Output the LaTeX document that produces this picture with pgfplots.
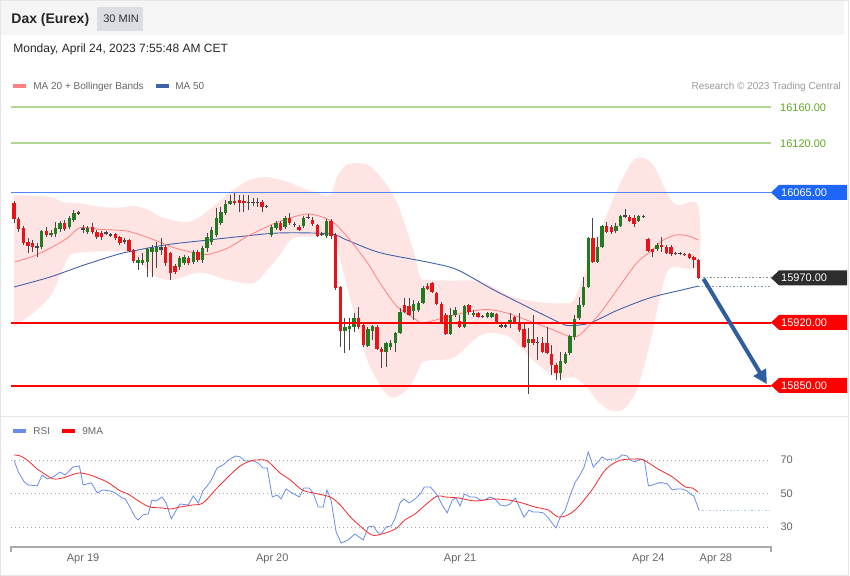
\documentclass[border=0pt]{standalone}
\usepackage{fontspec}
\setmainfont{Liberation Sans}
\usepackage{pgfplots}
\usepackage{pgfplotstable}
\pgfplotsset{compat=1.18}
\usetikzlibrary{arrows.meta}

\definecolor{candleup}{RGB}{34,122,34}
\definecolor{candledn}{RGB}{232,20,26}
\definecolor{wick}{RGB}{70,70,70}
\definecolor{bandfill}{RGB}{255,228,228}
\definecolor{ma20}{RGB}{255,128,128}
\definecolor{ma50}{RGB}{62,98,168}
\definecolor{lvlgreen}{RGB}{178,214,150}
\definecolor{lvltext}{RGB}{92,170,32}
\definecolor{lvlblue}{RGB}{84,132,250}
\definecolor{tagblue}{RGB}{30,102,246}
\definecolor{tagdark}{RGB}{45,45,45}
\definecolor{lvlred}{RGB}{255,0,0}
\definecolor{arrowblue}{RGB}{46,94,160}
\definecolor{rsiblue}{RGB}{105,140,235}
\definecolor{rsired}{RGB}{245,40,40}
\definecolor{txtgrey}{RGB}{102,102,102}
\definecolor{axisgrey}{RGB}{170,170,170}
\definecolor{btngrey}{RGB}{220,221,226}

\newcommand\tagfont{\fontsize{11}{13}\selectfont}
\newcommand\pricetag[3]{% y in px, colour, text
  \fill[#2] (771,-#1) -- (779,-#1+7.5) -- (847,-#1+7.5) -- (847,-#1-7.5) -- (779,-#1-7.5) -- cycle;
  \node[anchor=west, inner sep=0pt, text=white, font=\tagfont] at (781,-#1) {#3};
}

% 30 min candles: index, open, high, low, close
\pgfplotstableread{
i o h l c
6 16004 16023 16002 16022
8 16018 16023 16016 16020
9 16019 16032 16016 16026
10 16024 16033 16021 16031
12 16027 16039 16024 16037
13 16034 16046 16032 16042
16 16021 16028 16019 16026
27 15987 15993 15979 15990
28 15987 15998 15984 15990
29 15988 16003 15971 16002
30 15999 16007 15971 16003
31 15999 16010 15981 16004
36 15982 15994 15979 15992
37 15987 15996 15984 15993
39 15988 16001 15986 15999
41 15990 16006 15987 16003
42 16003 16020 15999 16016
43 16010 16027 16007 16023
44 16018 16048 16016 16037
45 16031 16049 16029 16043
46 16042 16057 16040 16052
47 16052 16062 16051 16056
56 16018 16029 16016 16027
57 16026 16033 16023 16031
59 16027 16039 16024 16037
63 16028 16039 16026 16037
68 16017 16036 16014 16033
72 15911 15926 15887 15916
73 15913 15926 15890 15917
74 15916 15931 15910 15926
77 15894 15916 15893 15913
78 15911 15918 15901 15917
81 15888 15899 15871 15898
82 15893 15901 15890 15898
83 15898 15910 15888 15909
84 15909 15937 15908 15932
87 15933 15946 15923 15941
88 15934 15944 15932 15942
89 15942 15961 15941 15959
95 15908 15937 15907 15929
96 15929 15938 15927 15934
98 15916 15940 15914 15939
100 15929 15934 15927 15931
103 15927 15932 15926 15931
104 15927 15932 15926 15931
108 15921 15931 15914 15923
112 15898 15914 15841 15902
119 15864 15888 15857 15878
120 15876 15888 15874 15886
121 15887 15907 15884 15906
122 15904 15929 15901 15924
123 15926 15949 15923 15940
124 15940 15971 15938 15960
125 15960 16016 15959 16014
127 15988 16016 15987 16004
128 16004 16029 16003 16028
131 16022 16031 16020 16028
132 16028 16040 16027 16039
136 16033 16040 16032 16039
140 16002 16009 16000 16007
}\upcandles

\pgfplotstableread{
i o h l c
5 16003 16009 15993 16006
14 16041 16044 16040 16043
15 16023 16029 16020 16026
20 16019 16022 16018 16021
21 16017 16020 16016 16019
24 16010 16014 16008 16012
32 16001 16014 15996 16004
51 16053 16062 16046 16054
52 16053 16059 16050 16054
53 16053 16059 16049 16054
55 16049 16051 16048 16050
61 16029 16032 16027 16030
64 16037 16041 16036 16038
67 16018 16021 16017 16019
102 15927 15929 15926 15928
106 15916 15919 15914 15918
107 15916 15920 15914 15918
114 15898 15904 15879 15899
133 16038 16047 16037 16040
137 16038 16040 16037 16039
144 15997 15999 15996 15998
145 15997 15999 15996 15998
}\dojicandles

\pgfplotstableread{
i o h l c
0 16053 16056 16031 16036
1 16036 16038 16021 16024
2 16026 16028 16007 16009
3 16010 16014 15998 16006
4 16009 16012 15999 16004
7 16022 16027 16016 16018
11 16031 16034 16022 16024
17 16027 16031 16019 16021
18 16021 16023 16013 16016
19 16020 16022 16012 16016
22 16019 16020 16012 16014
23 16016 16017 16007 16009
25 16012 16013 15999 16000
26 16001 16002 15987 15989
33 16004 16007 15983 15987
34 15998 15999 15968 15976
35 15983 15986 15974 15977
38 15992 15994 15984 15987
40 15999 16001 15988 15990
48 16056 16064 16051 16053
49 16057 16062 16043 16053
50 16056 16062 16043 16053
54 16054 16057 16043 16049
58 16031 16033 16022 16023
60 16037 16042 16029 16031
62 16027 16029 16022 16023
65 16034 16038 16028 16030
66 16029 16030 16016 16017
69 16033 16036 16013 16017
70 16018 16020 15957 15959
71 15960 15961 15893 15911
75 15926 15938 15913 15916
76 15918 15920 15893 15896
79 15916 15918 15890 15891
80 15891 15893 15870 15888
85 15940 15948 15931 15932
86 15939 15948 15928 15929
90 15961 15964 15957 15958
91 15964 15966 15953 15954
92 15953 15954 15940 15941
93 15941 15943 15919 15920
94 15929 15931 15907 15908
97 15922 15929 15914 15916
99 15940 15941 15929 15932
101 15931 15932 15926 15927
105 15930 15931 15919 15920
109 15927 15928 15919 15920
110 15920 15931 15910 15912
111 15913 15920 15892 15893
113 15902 15929 15896 15898
115 15898 15904 15887 15888
116 15898 15916 15886 15887
117 15886 15896 15862 15873
118 15873 15876 15857 15864
126 16014 16037 15987 15988
129 16028 16032 16020 16021
130 16027 16029 16019 16021
134 16038 16040 16032 16033
135 16037 16040 16027 16030
138 16013 16014 15999 16000
139 16002 16002 15993 15999
141 16007 16016 15999 16004
142 16004 16007 15997 15998
143 16004 16007 15994 15997
146 15997 15998 15994 15996
147 15997 15998 15991 15992
148 15993 15994 15981 15990
149 15990 15991 15969 15970
}\downcandles

\pgfplotsset{
  wicks/.style={draw=none, mark=none, forget plot,
    error bars/.cd, y dir=plus, y explicit, error mark=none,
    error bar style={draw=wick, line width=0.8pt}},
  bodies/.style={draw=none, mark=none, forget plot,
    error bars/.cd, y dir=plus, y explicit, error mark=none,
    error bar style={draw=#1, line width=3.4pt}},
}

\begin{document}
\begin{tikzpicture}[x=1pt,y=1pt]
\fill[white] (0,0) rectangle (850,-576);

% header
\fill[black!4] (1,-1) rectangle (844,-35.5);
\fill[btngrey] (97,-7) rectangle (143,-31);
\node[anchor=base west, inner sep=0pt, font=\fontsize{14}{16}\selectfont\bfseries, text=black!85] at (11,-23.5) {Dax (Eurex)};
\node[anchor=base west, inner sep=0pt, font=\fontsize{11}{13}\selectfont, text=black!80] at (103,-23) {30 MIN};
\node[anchor=base west, inner sep=0pt, font=\fontsize{12}{14}\selectfont, text=black!85] at (13,-52.5) {Monday, April 24, 2023 7:55:48 AM CET};

% legend of the price panel
\fill[ma20] (13,-84.5) rectangle (26,-88.5);
\node[anchor=base west, inner sep=0pt, font=\fontsize{10}{12}\selectfont, text=txtgrey] at (33,-90) {MA 20 + Bollinger Bands};
\fill[ma50] (156,-84.5) rectangle (169,-88.5);
\node[anchor=base west, inner sep=0pt, font=\fontsize{10}{12}\selectfont, text=txtgrey] at (175,-90) {MA 50};
\node[anchor=base east, inner sep=0pt, font=\fontsize{10}{12}\selectfont, text=black!40] at (841,-90) {Research © 2023 Trading Central};

% frame and panel separator
\draw[black!10] (0.5,-0.5) rectangle (848.5,-575.5);
\draw[black!10] (0,-416) -- (849,-416);

\begin{axis}[
  at={(11pt,-416pt)}, anchor=south west,
  width=760pt, height=321pt, scale only axis,
  xmin=-0.65, xmax=164.8, ymin=15816.7, ymax=16173.3,
  hide axis, clip=false,
]
  % Bollinger bands: upper band left to right, lower band right to left
  \addplot[fill=bandfill, draw=none, smooth] coordinates {
    (0,16062) (7.8,16060) (10.7,16054) (14.4,16053) (18.7,16049) (23.1,16048)
    (25.9,16050) (29,16046) (31.8,16038) (34.6,16034) (37.7,16032) (40.5,16038)
    (44.2,16053) (47.7,16068) (51.4,16079) (55.1,16082) (59.4,16077) (62.3,16071)
    (65.1,16066) (68.8,16062) (70.3,16082) (72.5,16096) (76.9,16096) (80.3,16079)
    (83.4,16053) (86.9,16001) (88.4,15971) (89.9,15968) (94.9,15967) (101.5,15966)
    (108.6,15949) (114.5,15943) (120,15942) (122.1,15948) (126.1,16001) (130.4,16057)
    (134.1,16096) (136.3,16104) (139.1,16096) (142.2,16064) (144.4,16051) (148.9,16051)
    (148.9,15984) (142.8,15981) (140.6,15948) (138.5,15899) (135.6,15846) (132.6,15824)
    (129.7,15823) (126.9,15834) (124.8,15848) (122.2,15859) (118.9,15859) (116,15866)
    (112.3,15882) (108,15904) (103.6,15909) (100.8,15904) (97.8,15890) (95.6,15881)
    (92.8,15879) (89,15877) (87.7,15864) (85.6,15846) (82.5,15837) (80.3,15846)
    (77.5,15871) (76,15893) (73.2,15946) (71,15990) (69.5,16016) (66,16016)
    (60.7,16014) (57.9,15996) (55.1,15979) (52,15964) (46.4,15968) (40.5,15976)
    (34.6,15968) (31.1,15971) (27.4,15987) (24.6,15999) (13.7,15998) (11.5,15990)
    (9.6,15968) (7.8,15949) (4.1,15931) (0,15916)} -- cycle;

  % MA 50
  \addplot[ma50, line width=0.9pt, smooth] coordinates {
    (0,15960) (7.8,15971) (15,15984) (22.4,15996) (25.9,16000) (33.3,16007)
    (42,16012) (49.2,16016) (57.9,16020) (68.8,16019) (72.5,16012) (79.7,15998)
    (90.6,15987) (96.5,15979) (104.3,15957) (111.7,15938) (118.9,15920) (121,15917)
    (125.4,15920) (131.3,15934) (138.5,15948) (145.7,15957) (149,15961)};
  % MA 20
  \addplot[ma20, line width=0.8pt, smooth] coordinates {
    (0.2,15988) (4.1,15994) (7.8,16003) (11.5,16014) (14.4,16026) (18.7,16024)
    (24.6,16022) (29.6,16014) (34.6,16004) (38.3,15999) (42,15996) (46.4,16003)
    (50.7,16016) (55.1,16027) (57.9,16033) (63.8,16041) (68.8,16034) (72.5,16016)
    (76.9,15987) (79.7,15964) (83.4,15938) (86.9,15926) (89,15920) (94.3,15927)
    (98.6,15932) (103,15935) (107.3,15931) (111.7,15923) (116,15915) (118.9,15909)
    (121,15905) (123.2,15907) (127.6,15931) (131.3,15957) (135.6,15987) (138.5,15999)
    (141.3,16012) (144.4,16018) (147.2,16016) (149,16012)};

  % candles
  \addplot[wicks] table[x=i, y=l, y error plus expr=\thisrow{h}-\thisrow{l}] {\upcandles};
  \addplot[wicks] table[x=i, y=l, y error plus expr=\thisrow{h}-\thisrow{l}] {\dojicandles};
  \addplot[wicks] table[x=i, y=l, y error plus expr=\thisrow{h}-\thisrow{l}] {\downcandles};
  \addplot[bodies=candleup] table[x=i, y=o, y error plus expr=\thisrow{c}-\thisrow{o}] {\upcandles};
  \addplot[bodies=wick] table[x=i, y=o, y error plus expr=\thisrow{c}-\thisrow{o}] {\dojicandles};
  \addplot[bodies=candledn] table[x=i, y=c, y error plus expr=\thisrow{o}-\thisrow{c}] {\downcandles};

  % levels
  \addplot[lvlgreen, line width=1.2pt] coordinates {(-0.65,16160) (164.8,16160)};
  \addplot[lvlgreen, line width=1.2pt] coordinates {(-0.65,16120) (164.8,16120)};
  \addplot[lvlblue, line width=1.5pt] coordinates {(-0.65,16065) (164.8,16065)};
  \addplot[lvlred, line width=2pt] coordinates {(-0.65,15920) (164.8,15920)};
  \addplot[lvlred, line width=2pt] coordinates {(-0.65,15850) (164.8,15850)};
  \addplot[black!45, line width=0.9pt, dash pattern=on 1.5pt off 2pt] coordinates {(150,15970) (164.8,15970)};
  \addplot[ma50!70, line width=0.8pt, dash pattern=on 1.5pt off 2pt] coordinates {(149,15961) (164.8,15961)};

  \draw[arrowblue, line width=4pt, -{Triangle[length=14pt,width=14pt]}]
    (axis cs:150.1,15969) -- (axis cs:163.9,15852);
\end{axis}

% level labels
\node[anchor=west, inner sep=0pt, text=lvltext, font=\tagfont] at (780,-107.5) {16160.00};
\node[anchor=west, inner sep=0pt, text=lvltext, font=\tagfont] at (780,-143.5) {16120.00};
\pricetag{192.5}{tagblue}{16065.00}
\pricetag{278}{tagdark}{15970.00}
\pricetag{322.5}{lvlred}{15920.00}
\pricetag{385.5}{lvlred}{15850.00}

% legend of the RSI panel
\fill[rsiblue] (13,-429.5) rectangle (26,-433.5);
\node[anchor=base west, inner sep=0pt, font=\fontsize{10}{12}\selectfont, text=txtgrey] at (33,-435) {RSI};
\fill[lvlred] (62,-429.5) rectangle (75,-433.5);
\node[anchor=base west, inner sep=0pt, font=\fontsize{10}{12}\selectfont, text=txtgrey] at (82,-435) {9MA};

\begin{axis}[
  at={(11pt,-547pt)}, anchor=south west,
  width=760pt, height=127pt, scale only axis,
  xmin=-0.65, xmax=164.8, ymin=18.1, ymax=93.9,
  axis x line*=bottom, axis y line*=right,
  y axis line style={draw=none},
  x axis line style={draw=axisgrey, line width=1.6pt, -},
  xtick={15,56.2,97.1,138.1,152.8},
  xticklabels={Apr 19,Apr 20,Apr 21,Apr 24,Apr 28},
  ytick={30,50,70},
  ymajorgrids,
  major grid style={draw=black!35, line width=0.6pt, dash pattern=on 1pt off 3pt},
  major tick length=0pt,
  tick label style={font=\fontsize{11}{13}\selectfont, text=txtgrey},
  /pgf/number format/assume math mode=true,
  xticklabel style={yshift=-3pt},
  yticklabel style={xshift=6pt},
  clip=false,
]
  \addplot[rsiblue, line width=0.8pt] coordinates {
    (0,69.6) (0.9,62.8) (2.2,56.9) (3.0,55.1) (5.0,54.5) (6.1,61.0) (7.2,58.7)
    (8.5,59.9) (10.0,62.8) (11.1,61.0) (12.8,65.8) (14.2,66.4) (15.0,55.1) (16.8,56.3)
    (18.1,50.3) (19.2,52.1) (20.9,51.5) (22.0,50.3) (23.5,47.3) (24.2,46.7) (25.3,41.3)
    (26.3,36.0) (27.0,34.2) (28.1,37.2) (29.2,37.8) (30.0,46.1) (30.9,45.5) (32.2,47.9)
    (33.1,44.3) (34.2,34.8) (35.3,40.1) (36.1,43.7) (37.9,43.1) (39.0,48.5) (40.1,44.3)
    (41.1,51.5) (42.7,56.9) (44.2,65.2) (45.5,67.0) (47.0,70.6) (48.3,72.4) (49.2,71.8)
    (50.3,69.4) (52.0,69.4) (53.1,68.2) (54.2,65.2) (55.1,65.2) (56.2,47.9) (57.3,49.1)
    (58.1,46.7) (59.2,52.7) (60.5,50.3) (62.1,47.9) (63.1,53.3) (64.2,53.3) (65.1,50.3)
    (66.2,41.9) (67.3,41.9) (68.1,52.1) (69.0,46.1) (70.1,27.0) (71.2,20.4) (72.7,22.2)
    (74.2,25.8) (76.0,22.2) (77.1,30.0) (78.2,30.6) (79.2,26.4) (80.1,26.4) (81.0,30.0)
    (82.1,30.6) (82.9,34.8) (84.0,44.3) (84.9,46.7) (86.0,44.3) (87.3,46.7) (88.6,50.3)
    (89.3,53.9) (90.6,53.9) (92.1,49.1) (93.2,43.1) (94.3,38.4) (95.4,46.1) (96.2,47.3)
    (97.1,42.5) (98.0,49.7) (99.3,47.9) (100.4,47.9) (101.5,46.1) (102.5,46.1) (103.6,47.9)
    (104.7,46.7) (105.8,43.1) (106.9,42.5) (108.0,43.7) (109.1,47.3) (110.2,40.7) (111.0,35.9)
    (112.1,40.1) (113.0,38.9) (114.1,38.9) (115.2,38.4) (116.3,35.4) (117.1,32.4) (118.0,29.4)
    (118.9,36.0) (120.0,40.1) (121.1,49.1) (122.2,56.9) (123.2,61.0) (124.1,65.8) (125.0,74.8)
    (126.1,65.8) (126.9,68.2) (128.0,71.8) (129.1,70.0) (130.2,70.6) (131.3,70.6) (132.4,73.0)
    (133.5,72.4) (134.1,70.0) (135.2,68.8) (136.3,70.6) (137.2,70.0) (138.1,54.5) (139.1,55.1)
    (140.2,56.3) (141.3,56.3) (142.2,55.7) (143.3,52.1) (144.4,52.7) (145.4,52.7) (146.5,51.5)
    (147.2,49.7) (148.0,48.5) (149.1,40.1)};
  \addplot[rsiblue!50, line width=0.8pt, dash pattern=on 1.5pt off 2pt] coordinates {(149.1,40.1) (164.8,40.1)};
  \addplot[rsired, line width=0.8pt, smooth] coordinates {
    (0,73.0) (1.3,72.4) (2.8,70.0) (5.0,64.6) (6.3,62.2) (8.5,58.7) (10.7,59.3)
    (13.9,62.2) (16.5,61.0) (20.2,56.9) (23.1,51.5) (24.8,49.7) (27.4,44.9) (29.6,41.9)
    (32.4,41.3) (34.0,40.7) (36.1,41.9) (38.8,43.1) (41.1,44.3) (44.2,53.3) (47.0,61.0)
    (49.2,66.4) (51.4,69.4) (52.9,70.0) (55.1,69.4) (57.9,62.2) (60.1,58.1) (62.7,52.1)
    (65.1,50.3) (68.8,47.9) (71.0,43.1) (73.2,36.0) (75.3,30.6) (77.9,25.2) (80.1,25.8)
    (83.0,28.8) (85.1,34.2) (87.3,37.8) (89.5,43.1) (92.1,48.5) (93.8,47.9) (96.7,47.3)
    (100.4,45.5) (104.1,46.7) (107.6,46.1) (110.6,44.3) (113.4,41.9) (116.3,40.1) (118.4,36.0)
    (120.6,37.2) (122.8,41.9) (125.8,52.1) (128.7,64.0) (131.5,69.4) (134.6,70.6) (137.0,70.0)
    (140.2,64.6) (143.3,59.9) (146.1,53.9) (147.6,53.3) (148.9,50.9)};
\end{axis}
\draw[axisgrey, line width=1.5pt] (11,-546) -- (11,-552);
\draw[axisgrey, line width=1.5pt] (771,-546) -- (771,-552);
\end{tikzpicture}
\end{document}
